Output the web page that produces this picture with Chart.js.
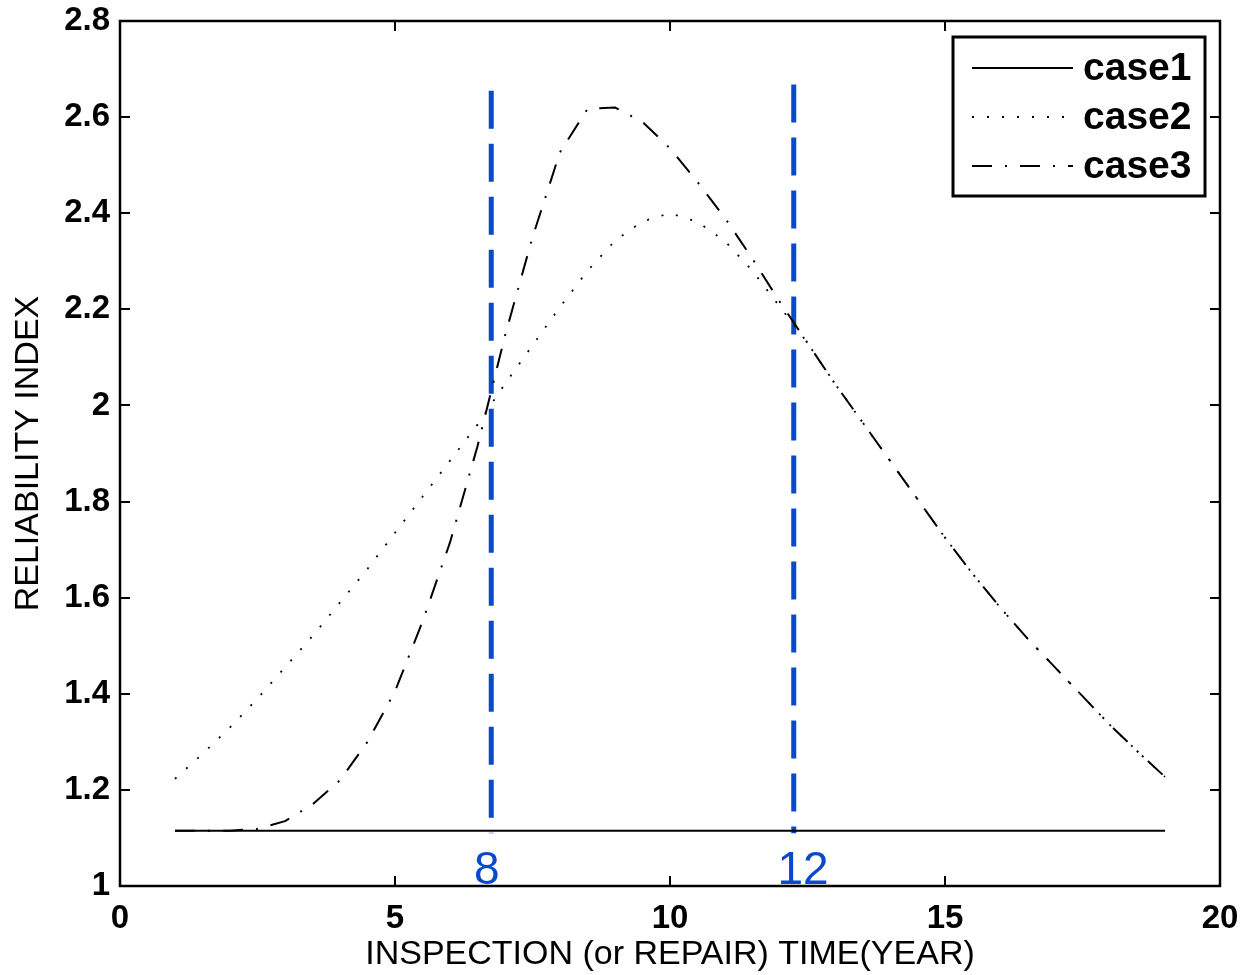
<!DOCTYPE html>
<html>
<head>
<meta charset="utf-8">
<script src="https://cdn.jsdelivr.net/npm/chart.js@4/dist/chart.umd.min.js"></script>
<style>
  html, body { margin: 0; padding: 0; background: #ffffff; }
  #wrap { width: 1242px; height: 975px; }
</style>
</head>
<body>
<div id="wrap"><canvas id="c" width="1242" height="975"></canvas></div>
<script>
// ---- data ----
const years = [1, 1.5, 2, 2.5, 3, 3.5, 4, 4.5, 5, 5.5, 6, 6.5, 7, 7.5, 8, 8.5, 9, 9.5, 10,
               10.5, 11, 11.5, 12, 12.5, 13, 13.5, 14, 14.5, 15, 15.5, 16, 16.5, 17, 17.5, 18, 18.5, 19];
const case1 = [1.115, 1.115, 1.115, 1.115, 1.115, 1.115, 1.115, 1.115, 1.115, 1.115, 1.115, 1.115, 1.115,
               1.115, 1.115, 1.115, 1.115, 1.115, 1.115, 1.115, 1.115, 1.115, 1.115, 1.115, 1.115, 1.115,
               1.115, 1.115, 1.115, 1.115, 1.115, 1.115, 1.115, 1.115, 1.115, 1.115, 1.115];
const case2 = [1.223, 1.275, 1.33, 1.39, 1.455, 1.52, 1.59, 1.66, 1.735, 1.81, 1.885, 1.96, 2.045,
               2.125, 2.205, 2.28, 2.343, 2.383, 2.40, 2.382, 2.342, 2.28, 2.205, 2.13, 2.045, 1.965,
               1.885, 1.805, 1.725, 1.65, 1.58, 1.515, 1.455, 1.395, 1.335, 1.28, 1.227];
const case3 = [1.115, 1.115, 1.115, 1.119, 1.135, 1.17, 1.22, 1.30, 1.405, 1.55, 1.715, 1.915, 2.145,
               2.35, 2.527, 2.617, 2.62, 2.59, 2.535, 2.465, 2.39, 2.305, 2.215, 2.13, 2.045, 1.965,
               1.885, 1.805, 1.725, 1.65, 1.58, 1.515, 1.455, 1.395, 1.335, 1.28, 1.227];
const seriesNames = ['case1', 'case2', 'case3'];

// vertical blue marker lines (inspection times)
const markerX = [6.75, 12.25];
const markerTop = [2.655, 2.668];
const markerBottom = [1.11, 1.11];
const markerLabels = ['8', '12'];
const markerLabelX = [6.67, 12.42];
const markerLabelY = [1.004, 1.004];

// axis tick values
const xTicks = [0, 5, 10, 15, 20];
const yTicks = [1, 1.2, 1.4, 1.6, 1.8, 2, 2.2, 2.4, 2.6, 2.8];

const FONT = "'Liberation Sans', Arial, Helvetica, sans-serif";
const BLUE = '#0a48cc';

function pts(xs, ys) { return xs.map((x, i) => ({x: x, y: ys[i]})); }

const lineStyles = [
  {borderDash: [], borderWidth: 2},
  {borderDash: [2, 13], borderWidth: 1.8},
  {borderDash: [20, 13, 2, 13], borderWidth: 2}
];

const datasets = [case1, case2, case3].map((d, i) => ({
  label: seriesNames[i],
  data: pts(years, d),
  borderColor: '#000000',
  borderWidth: lineStyles[i].borderWidth,
  borderDash: lineStyles[i].borderDash,
  pointRadius: 0,
  showLine: true,
  tension: 0,
  fill: false
}));

markerX.forEach((mx, i) => {
  datasets.push({
    label: 'marker' + markerLabels[i],
    data: [{x: mx, y: markerTop[i]}, {x: mx, y: markerBottom[i]}],
    borderColor: BLUE,
    borderWidth: 5,
    borderDash: [38, 15],
    borderCapStyle: 'butt',
    pointRadius: 0,
    showLine: true,
    fill: false
  });
});

function zeroPad(s) { s.paddingLeft = 0; s.paddingRight = 0; s.paddingTop = 0; s.paddingBottom = 0; }

const framePlugin = {
  id: 'frame',
  afterDraw(chart) {
    const {ctx, chartArea: a, scales} = chart;
    ctx.save();
    // tick marks (inward, on all four sides)
    ctx.strokeStyle = '#000';
    ctx.lineWidth = 2;
    const tl = 10;
    xTicks.forEach(v => {
      const px = Math.round(scales.x.getPixelForValue(v));
      ctx.beginPath();
      ctx.moveTo(px, a.bottom); ctx.lineTo(px, a.bottom - tl);
      ctx.moveTo(px, a.top); ctx.lineTo(px, a.top + tl);
      ctx.stroke();
    });
    yTicks.forEach(v => {
      const py = Math.round(scales.y.getPixelForValue(v));
      ctx.beginPath();
      ctx.moveTo(a.left, py); ctx.lineTo(a.left + tl, py);
      ctx.moveTo(a.right, py); ctx.lineTo(a.right - tl, py);
      ctx.stroke();
    });
    // frame
    ctx.lineWidth = 2.5;
    ctx.strokeRect(a.left, a.top, a.right - a.left, a.bottom - a.top);

    // marker labels
    ctx.fillStyle = BLUE;
    ctx.font = "46px " + FONT;
    ctx.textAlign = 'center';
    ctx.textBaseline = 'alphabetic';
    markerLabels.forEach((t, i) => {
      ctx.fillText(t, scales.x.getPixelForValue(markerLabelX[i]), scales.y.getPixelForValue(markerLabelY[i]));
    });

    // legend box
    const lx = 953, ly = 37, lw = 252, lh = 159;
    ctx.fillStyle = '#fff';
    ctx.fillRect(lx, ly, lw, lh);
    ctx.strokeStyle = '#000';
    ctx.lineWidth = 3;
    ctx.strokeRect(lx, ly, lw, lh);
    const rows = [68, 117, 166];
    seriesNames.forEach((name, i) => {
      const st = lineStyles[i];
      ctx.beginPath();
      ctx.setLineDash(st.borderDash);
      ctx.lineWidth = st.borderWidth;
      ctx.strokeStyle = '#000';
      ctx.moveTo(972, rows[i]); ctx.lineTo(1073, rows[i]);
      ctx.stroke();
      ctx.setLineDash([]);
      ctx.fillStyle = '#000';
      ctx.font = "bold 39px " + FONT;
      ctx.textAlign = 'left';
      ctx.textBaseline = 'middle';
      ctx.fillText(name, 1083, rows[i] + 1);
    });
    ctx.restore();
  }
};

new Chart(document.getElementById('c'), {
  type: 'scatter',
  data: {datasets: datasets},
  options: {
    responsive: false,
    animation: false,
    devicePixelRatio: 1,
    layout: {padding: {top: 21, right: 22, left: 0, bottom: 0}},
    plugins: {legend: {display: false}, tooltip: {enabled: false}},
    scales: {
      x: {
        type: 'linear', min: 0, max: 20,
        afterBuildTicks(s) { s.ticks = xTicks.map(v => ({value: v})); },
        afterFit(s) { s.height = 89; zeroPad(s); },
        grid: {display: false, drawTicks: false},
        border: {display: false},
        ticks: {padding: 13, color: '#000', font: {family: FONT, size: 33, weight: 'bold'}, maxRotation: 0},
        title: {display: true, text: 'INSPECTION (or REPAIR) TIME(YEAR)', color: '#000',
                font: {family: FONT, size: 34}, padding: {top: 0, bottom: 0}}
      },
      y: {
        type: 'linear', min: 1, max: 2.8,
        afterBuildTicks(s) { s.ticks = yTicks.map(v => ({value: v})); },
        afterFit(s) { s.width = 120; zeroPad(s); },
        grid: {display: false, drawTicks: false},
        border: {display: false},
        ticks: {padding: 10, color: '#000', font: {family: FONT, size: 33, weight: 'bold'},
                callback: v => String(+v.toFixed(1))},
        title: {display: true, text: 'RELIABILITY INDEX', color: '#000',
                font: {family: FONT, size: 34}, padding: {top: 8, bottom: 0}}
      }
    }
  },
  plugins: [framePlugin]
});
</script>
</body>
</html>
